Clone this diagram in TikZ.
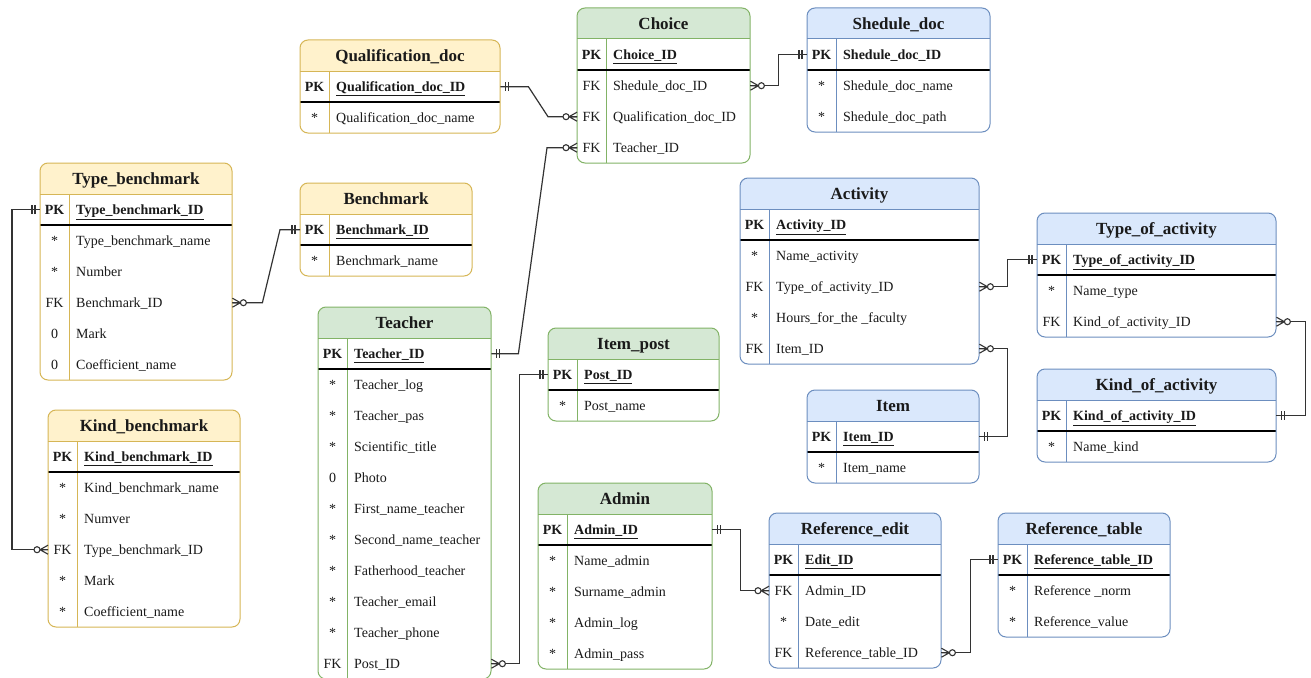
\documentclass[tikz,border=0pt]{standalone}
\usepackage{fontspec}
\setmainfont{Liberation Serif}
\definecolor{yelfill}{HTML}{FFF2CC}
\definecolor{yeldraw}{HTML}{D6B656}
\definecolor{grnfill}{HTML}{D5E8D4}
\definecolor{grndraw}{HTML}{82B366}
\definecolor{blufill}{HTML}{DAE8FC}
\definecolor{bludraw}{HTML}{6C8EBF}
\definecolor{txt}{HTML}{1A1A1A}
\definecolor{wire}{HTML}{333333}
\newcommand\rowfont{\fontsize{14}{17}\selectfont}
\newcommand\titlefont{\fontsize{17}{20}\selectfont\bfseries}
\tikzset{
  tablebox/.style={inner sep=0pt, anchor=north west, draw=none},
  rowbox/.style={inner sep=0pt, anchor=north west, minimum height=31pt, draw=none},
  titletext/.style={inner sep=0pt, anchor=base, font=\titlefont, text=txt},
  keytext/.style={inner sep=0pt, anchor=base, font=\rowfont, text=txt},
  fieldtext/.style={inner sep=0pt, anchor=base west, font=\rowfont, text=txt},
  sepline/.style={draw=black, line width=1.3pt},
  conn/.style={draw=wire, line width=1.2pt},
  mand/.pic={\draw[wire, line width=1.1pt] (5,-4.5) -- (5,4.5) (8,-4.5) -- (8,4.5);},
  many/.pic={\draw[wire, line width=1.1pt] (0,-4.5) -- (8,0) -- (0,4.5) (0,0) -- (8,0);
             \draw[wire, line width=1.1pt, fill=white] (11,0) circle (3);},
}
% \ertable{name}{left}{top}{width}{scheme}{title}{pk field}{number of rows}{key/field list}
\newcommand\ertable[9]{%
  \pgfmathsetmacro\ertH{31*(#8+2)}%
  \begin{scope}
    \clip[rounded corners=8pt] (#2,#3) rectangle ++(#4,\ertH);
    \fill[white] (#2,#3) rectangle ++(#4,\ertH);
    \fill[#5fill] (#2,#3) rectangle ++(#4,31);
  \end{scope}
  \draw[#5draw, line width=1pt] (#2,{#3+31}) -- ++(#4,0);
  \draw[#5draw, line width=1pt] ({#2+29},{#3+31}) -- ({#2+29},{#3+\ertH});
  \draw[sepline] (#2,{#3+62}) -- ++(#4,0);
  \draw[#5draw, line width=1pt, rounded corners=8pt] (#2,#3) rectangle ++(#4,\ertH);
  \node[tablebox, minimum width=#4pt, minimum height=\ertH pt] (#1) at (#2,#3) {};
  \node[titletext] (#1-h) at ({#2+#4/2},{#3+21.5}) {#6};
  \node[rowbox, minimum width=#4pt] (#1-0) at (#2,{#3+31}) {};
  \node[keytext, font=\rowfont\bfseries] (#1-0-k) at ({#2+14.5},{#3+51.5}) {PK};
  \node[fieldtext, font=\rowfont\bfseries] (#1-0-t) at ({#2+36},{#3+51.5}) {#7};
  \foreach \ertk/\ertt [count=\i] in {#9} {
    \node[rowbox, minimum width=#4pt] (#1-\i) at (#2,{#3+31+31*\i}) {};
    \node[keytext] (#1-\i-k) at ({#2+14.5},{#3+51.5+31*\i}) {\ertk};
    \node[fieldtext] (#1-\i-t) at ({#2+36},{#3+51.5+31*\i}) {\ertt};
  }
}
\begin{document}
\begin{tikzpicture}[x=1pt, y=-1pt]
\useasboundingbox (0,0) rectangle (1311,677);
\fill[white] (0,0) rectangle (1311,677);

% tables
\ertable{qual}{300}{40}{200}{yel}{Qualification\_doc}{\underline{Qualification\_doc\_ID}}{1}{*/Qualification\_doc\_name}
\ertable{choice}{577}{8}{173}{grn}{Choice}{\underline{Choice\_ID}}{3}{FK/Shedule\_doc\_ID, FK/Qualification\_doc\_ID, FK/Teacher\_ID}
\ertable{shed}{807}{8}{183}{blu}{Shedule\_doc}{Shedule\_doc\_ID}{2}{*/Shedule\_doc\_name, */Shedule\_doc\_path}
\ertable{typeb}{40}{163}{192}{yel}{Type\_benchmark}{\underline{Type\_benchmark\_ID}}{5}{*/Type\_benchmark\_name, */Number, FK/Benchmark\_ID, 0/Mark, 0/Coefficient\_name}
\ertable{bench}{300}{183}{172}{yel}{Benchmark}{\underline{Benchmark\_ID}}{1}{*/Benchmark\_name}
\ertable{kindb}{48}{410}{192}{yel}{Kind\_benchmark}{\underline{Kind\_benchmark\_ID}}{5}{*/Kind\_benchmark\_name, */Numver, FK/Type\_benchmark\_ID, */Mark, */Coefficient\_name}
\ertable{teacher}{318}{307}{173}{grn}{Teacher}{\underline{Teacher\_ID}}{10}{*/Teacher\_log, */Teacher\_pas, */Scientific\_title, 0/Photo, */First\_name\_teacher, */Second\_name\_teacher, */Fatherhood\_teacher, */Teacher\_email, */Teacher\_phone, FK/Post\_ID}
\ertable{itempost}{548}{328}{171}{grn}{Item\_post}{\underline{Post\_ID}}{1}{*/Post\_name}
\ertable{admin}{538}{483}{174}{grn}{Admin}{\underline{Admin\_ID}}{4}{*/Name\_admin, */Surname\_admin, */Admin\_log, */Admin\_pass}
\ertable{refedit}{769}{513}{172}{blu}{Reference\_edit}{\underline{Edit\_ID}}{3}{FK/Admin\_ID, */Date\_edit, FK/Reference\_table\_ID}
\ertable{reftable}{998}{513}{172}{blu}{Reference\_table}{\underline{Reference\_table\_ID}}{2}{*/Reference \_norm, */Reference\_value}
\ertable{activity}{740}{178}{239}{blu}{Activity}{\underline{Activity\_ID}}{4}{*/Name\_activity, FK/Type\_of\_activity\_ID, */Hours\_for\_the \_faculty, FK/Item\_ID}
\ertable{item}{807}{390}{172}{blu}{Item}{\underline{Item\_ID}}{1}{*/Item\_name}
\ertable{typeact}{1037}{213}{239}{blu}{Type\_of\_activity}{\underline{Type\_of\_activity\_ID}}{2}{*/Name\_type, FK/Kind\_of\_activity\_ID}
\ertable{kindact}{1037}{369}{239}{blu}{Kind\_of\_activity}{\underline{Kind\_of\_activity\_ID}}{1}{*/Name\_kind}

% connectors
\draw[conn] (qual-0.east) -- ++(28,0) -- ([xshift=-29pt]choice-2.west) -- (choice-2.west);
\draw[conn] (teacher-0.east) -- ++(27,0) -- ([xshift=-30pt]choice-3.west) -- (choice-3.west);
\draw[conn] (choice-1.east) -- ++(28,0) |- (shed-0.west);
\draw[conn] (typeb-3.east) -- ++(30,0) -- ([xshift=-20pt]bench-0.west) -- (bench-0.west);
\draw[conn] (typeb-0.west) -- ++(-28,0) |- (kindb-3.west);
\draw[conn] (teacher-10.east) -- ++(28,0) |- (itempost-0.west);
\draw[conn] (admin-0.east) -- ++(28,0) |- (refedit-1.west);
\draw[conn] (refedit-3.east) -- ++(29,0) |- (reftable-0.west);
\draw[conn] (activity-2.east) -- ++(28,0) |- (typeact-0.west);
\draw[conn] (activity-4.east) -- ++(28,0) |- (item-0.east);
\draw[conn] (typeact-2.east) -- ++(29,0) |- (kindact-0.east);

% relationship ends
\pic at (qual-0.east) {mand};
\pic[rotate=180] at (choice-2.west) {many};
\pic at (teacher-0.east) {mand};
\pic[rotate=180] at (choice-3.west) {many};
\pic at (choice-1.east) {many};
\pic[rotate=180] at (shed-0.west) {mand};
\pic at (typeb-3.east) {many};
\pic[rotate=180] at (bench-0.west) {mand};
\pic[rotate=180] at (typeb-0.west) {mand};
\pic[rotate=180] at (kindb-3.west) {many};
\pic at (teacher-10.east) {many};
\pic[rotate=180] at (itempost-0.west) {mand};
\pic at (admin-0.east) {mand};
\pic[rotate=180] at (refedit-1.west) {many};
\pic at (refedit-3.east) {many};
\pic[rotate=180] at (reftable-0.west) {mand};
\pic at (activity-2.east) {many};
\pic[rotate=180] at (typeact-0.west) {mand};
\pic at (activity-4.east) {many};
\pic at (item-0.east) {mand};
\pic at (typeact-2.east) {many};
\pic at (kindact-0.east) {mand};
\end{tikzpicture}
\end{document}
